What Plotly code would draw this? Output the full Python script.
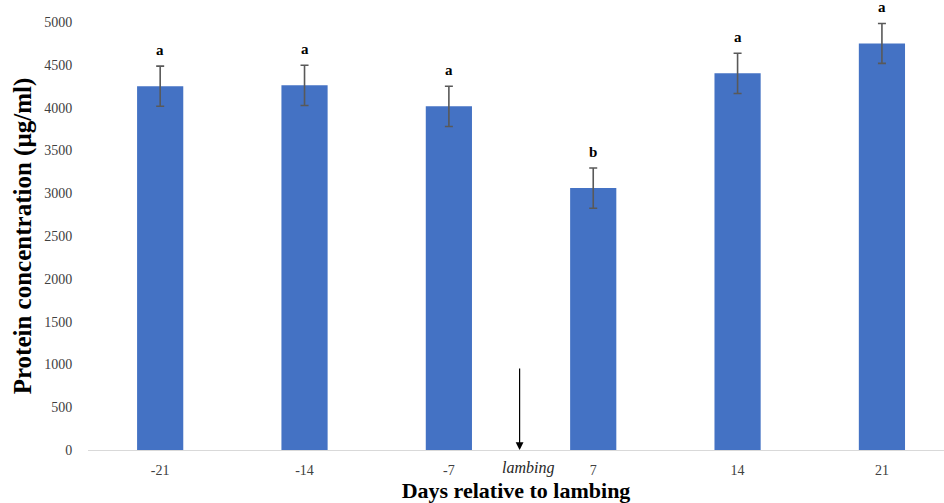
import plotly.graph_objects as go

# Sampling days relative to lambing
days = ["-21", "-14", "-7", "7", "14", "21"]
protein = [4250, 4260, 4015, 3060, 4400, 4750]
sem = [235, 235, 235, 235, 235, 233]
letters = ["a", "a", "a", "b", "a", "a"]
y_ticks = [0, 500, 1000, 1500, 2000, 2500, 3000, 3500, 4000, 4500, 5000]

x_pos = list(range(len(days)))
serif = "Liberation Serif, Times New Roman, serif"

fig = go.Figure()
fig.add_trace(go.Bar(
    x=x_pos,
    y=protein,
    width=0.32,
    marker=dict(color="#4472C4", line=dict(width=0)),
    error_y=dict(type="data", array=sem, visible=True,
                 color="#595959", thickness=1.6, width=4),
    hoverinfo="skip",
))

# Significance letters above each error bar
for xi, v, e, letter in zip(x_pos, protein, sem, letters):
    fig.add_annotation(x=xi, y=v + e, text=f"<b>{letter}</b>", showarrow=False,
                       yanchor="bottom", yshift=6,
                       font=dict(family=serif, size=15, color="#000000"))

# Lambing marker between day -7 and day 7
fig.add_annotation(x=2.49, y=0, ax=2.49, ay=970, axref="x", ayref="y",
                   xref="x", yref="y", text="", showarrow=True,
                   arrowhead=2, arrowsize=1.3, arrowwidth=1.2, arrowcolor="#000000",
                   standoff=0)
fig.add_annotation(x=2.55, y=0, xref="x", yref="y", text="<i>lambing</i>",
                   showarrow=False, yanchor="top", yshift=-7,
                   font=dict(family=serif, size=16, color="#262626"))

fig.update_layout(
    width=944, height=503,
    margin=dict(l=88, r=0, t=22, b=53),
    paper_bgcolor="white", plot_bgcolor="white",
    showlegend=False,
    font=dict(family=serif, color="#404040", size=14),
    xaxis=dict(
        tickmode="array", tickvals=x_pos, ticktext=days,
        range=[-0.5, 5.43],
        showgrid=False, zeroline=False,
        showline=True, linecolor="#D9D9D9", linewidth=1,
        ticks="outside", ticklen=7, tickcolor="rgba(0,0,0,0)",
        tickfont=dict(family=serif, size=14, color="#404040"),
        title=dict(text="<b>Days relative to lambing</b>", standoff=4,
                   font=dict(family=serif, size=22, color="#000000")),
    ),
    yaxis=dict(
        range=[0, 5000],
        tickmode="array", tickvals=y_ticks,
        showgrid=False, zeroline=False, showline=False,
        ticks="outside", ticklen=12, tickcolor="rgba(0,0,0,0)",
        tickfont=dict(family=serif, size=14, color="#404040"),
        title=dict(text="<b>Protein concentration (µg/ml)</b>", standoff=5,
                   font=dict(family=serif, size=25, color="#000000")),
    ),
)

fig.write_html("out.html")
